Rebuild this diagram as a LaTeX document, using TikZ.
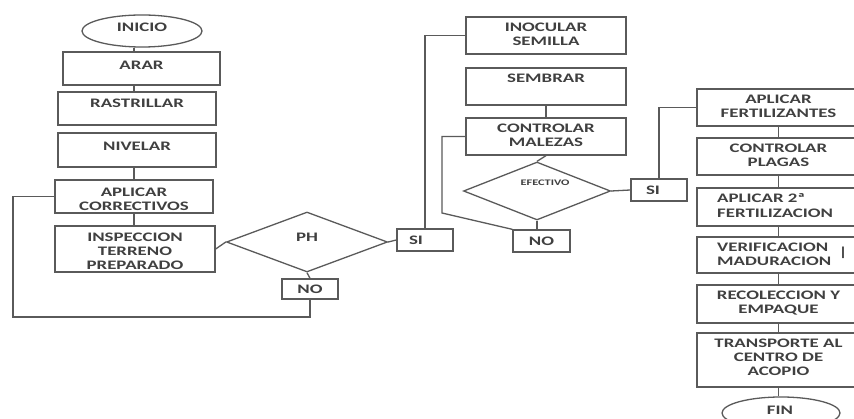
\documentclass[tikz,border=0pt]{standalone}
\usepackage{fontspec}
\newfontfamily\lblfont{Carlito}[FakeStretch=1.45]
\usetikzlibrary{shapes.geometric}
\definecolor{linegray}{HTML}{5A5A5A}
\definecolor{txtgray}{HTML}{404040}
\tikzset{
  stroke/.style={draw=linegray, line width=1.3pt},
  box/.style={stroke, rectangle, inner sep=0pt},
  oval/.style={stroke, ellipse, inner sep=0pt},
  decision/.style={stroke, diamond, inner sep=0pt},
  lbl/.style={font=\lblfont\bfseries\fontsize{13}{14.2}\selectfont, text=txtgray, align=center, inner sep=0pt},
  smalllbl/.style={lbl, font=\lblfont\bfseries\fontsize{8.5}{10}\selectfont},
  leftlbl/.style={lbl, align=left, anchor=west},
}
\begin{document}
\begin{tikzpicture}[x=1pt, y=-1pt]
\useasboundingbox (0,0) rectangle (854,419);
\fill[white] (0,0) rectangle (854,419);
\clip (0,0) rectangle (854,419);

% ---- first column: soil preparation ----
\node[oval, minimum width=120pt, minimum height=32pt] (inicio) at (142,31) {};
\node[lbl] (inicio-t) at (142,27) {INICIO};
\node[box, minimum width=157pt, minimum height=33pt] (arar) at (141.5,68.5) {};
\node[lbl] (arar-t) at (141.5,65) {ARAR};
\node[box, minimum width=158pt, minimum height=33pt] (rastr) at (137,108.5) {};
\node[lbl] (rastr-t) at (137,103) {RASTRILLAR};
\node[box, minimum width=158pt, minimum height=34pt] (nivel) at (137,150) {};
\node[lbl] (nivel-t) at (137,146) {NIVELAR};
\node[box, minimum width=158pt, minimum height=33pt] (aplic) at (134,196.5) {};
\node[lbl] (aplic-t) at (134,199) {APLICAR\\CORRECTIVOS};
\node[box, minimum width=160pt, minimum height=46pt] (insp) at (135,249) {};
\node[lbl] (insp-t) at (135,251) {INSPECCION\\TERRENO\\PREPARADO};

\node[decision, minimum width=161pt, minimum height=60pt] (ph) at (307,242) {};
\node[lbl] (ph-t) at (307,237) {PH};
\node[box, minimum width=56pt, minimum height=20pt] (no1) at (310,289) {};
\node[lbl] (no1-t) at (310,289) {NO};
\node[box, minimum width=56pt, minimum height=22pt] (si1) at (425,240) {};
\node[lbl] (si1-t) at (416,240) {SI};
\coordinate (loopL) at (13,317);

\draw[stroke] (inicio.south -| aplic.north) -- (arar.north -| aplic.north);
\draw[stroke] (arar.south -| aplic.north) -- (rastr.north -| aplic.north);
\draw[stroke] (nivel.south -| aplic.north) -- (aplic.north);
\draw[stroke] (aplic.south) -- (insp.north -| aplic.south);
\draw[stroke] (insp.east) -- (ph.west);
\draw[stroke] (ph.east) -- (si1.west);
\draw[stroke] (ph.south) -- (no1.north);
\draw[stroke] (no1.south) |- (loopL) |- (aplic.west);

% ---- second column: sowing and weed control ----
\node[box, minimum width=160pt, minimum height=37pt] (inoc) at (546,35.5) {};
\node[lbl] (inoc-t) at (546,34.5) {INOCULAR\\SEMILLA};
\node[box, minimum width=160pt, minimum height=37pt] (sembr) at (546,86.5) {};
\node[lbl] (sembr-t) at (546,78) {SEMBRAR};
\node[box, minimum width=160pt, minimum height=37pt] (contr) at (546,136.5) {};
\node[lbl] (contr-t) at (546,135.5) {CONTROLAR\\MALEZAS};
\node[decision, minimum width=147pt, minimum height=58pt] (efect) at (537,191) {};
\node[smalllbl] (efect-t) at (545,183) {EFECTIVO};
\node[box, minimum width=57pt, minimum height=22pt] (no2) at (541.5,241) {};
\node[lbl] (no2-t) at (541.5,241) {NO};
\node[box, minimum width=56pt, minimum height=22pt] (si2) at (659,190) {};
\node[lbl] (si2-t) at (653,190) {SI};
\coordinate (loopM) at (442,213);

\draw[stroke] (si1.north) |- (inoc.west);
\draw[stroke] (sembr.south) -- (contr.north);
\draw[stroke] (contr.south) -- (efect.north);
\draw[stroke] (efect.south) -- (no2.north -| efect.south);
\draw[stroke] (no2.north west) -- (loopM) |- (contr.west);
\draw[stroke] (efect.east) -- (si2.west);

% ---- third column: crop care and harvest ----
\node[box, minimum width=163pt, minimum height=37pt] (fert) at (778.5,107.5) {};
\node[lbl] (fert-t) at (778.5,106) {APLICAR\\FERTILIZANTES};
\node[box, minimum width=163pt, minimum height=37pt] (plag) at (778.5,156.5) {};
\node[lbl] (plag-t) at (778.5,155.5) {CONTROLAR\\PLAGAS};
\node[box, minimum width=163pt, minimum height=38pt] (fert2) at (778.5,207) {};
\node[leftlbl] (fert2-t) at (717,205.5) {APLICAR 2ª\\FERTILIZACION};
\node[box, minimum width=163pt, minimum height=36pt] (verif) at (778.5,255) {};
\node[leftlbl] (verif-t) at (717,254.5) {VERIFICACION\\MADURACION};
\node[lbl] (verif-bar) at (843,253) {|};
\node[box, minimum width=163pt, minimum height=38pt] (recol) at (778.5,304) {};
\node[lbl] (recol-t) at (778.5,303) {RECOLECCION Y\\EMPAQUE};
\node[box, minimum width=163pt, minimum height=54pt] (transp) at (778.5,360) {};
\node[lbl] (transp-t) at (778.5,357) {TRANSPORTE AL\\CENTRO DE\\ACOPIO};
\node[oval, minimum width=118pt, minimum height=32pt] (fin) at (781,413) {};
\node[lbl] (fin-t) at (780,410) {FIN};

\draw[stroke] (si2.north) |- (fert.west);
\draw[stroke] (fert.south) -- (plag.north);
\draw[stroke] (plag.south) -- (fert2.north);
\draw[stroke] (fert2.south) -- (verif.north);
\draw[stroke] (verif.south) -- (recol.north);
\draw[stroke] (recol.south) -- (transp.north);
\draw[stroke] (transp.south) -- (fin.north -| transp.south);
\end{tikzpicture}
\end{document}
